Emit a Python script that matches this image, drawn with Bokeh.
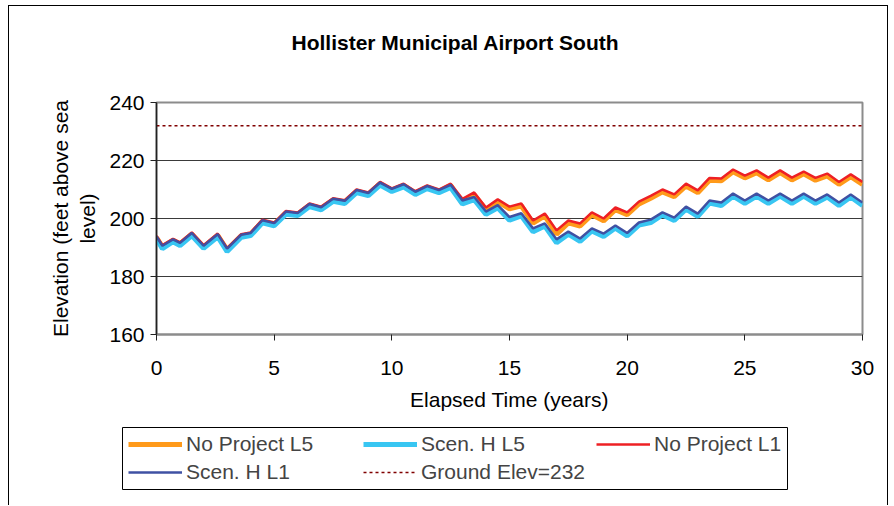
from bokeh.plotting import figure
from bokeh.layouts import column
from bokeh.models import Range1d, FixedTicker, Legend, LegendItem, Title
from bokeh.embed import file_html
from bokeh.resources import INLINE

# ---------------- data ----------------
T = [0, 0.25, 0.7, 1.0, 1.5, 2.0, 2.6, 3.0, 3.6, 4.0, 4.5, 5.0, 5.5, 6.0, 6.5, 7.0, 7.5,
     8.0, 8.5, 9.0, 9.5, 10.0, 10.5, 11.0, 11.5, 12.0, 12.5, 13.0, 13.5, 14.0, 14.5, 15.0,
     15.5, 16.0, 16.5, 17.0, 17.5, 18.0, 18.5, 19.0, 19.5, 20.0, 20.5, 21.0, 21.5, 22.0,
     22.5, 23.0, 23.5, 24.0, 24.5, 25.0, 25.5, 26.0, 26.5, 27.0, 27.5, 28.0, 28.5, 29.0,
     29.5, 30.0]

NO_PROJECT_L5 = [193.4, 190.2, 192.5, 191.2, 194.6, 190.2, 194.2, 189.2, 194.0, 194.5, 199.0,
                 198.0, 202.0, 201.5, 204.6, 203.5, 206.4, 205.7, 209.4, 208.4, 212.0, 209.8,
                 211.4, 208.8, 210.8, 209.4, 211.4, 205.2, 208.2, 203.0, 205.8, 203.3, 204.4,
                 198.4, 200.9, 194.6, 198.5, 197.4, 201.3, 199.2, 203.0, 201.3, 205.0, 207.0,
                 209.2, 207.5, 211.2, 208.9, 213.2, 213.0, 216.1, 214.0, 215.8, 213.3, 215.8,
                 213.3, 215.4, 213.2, 214.7, 211.8, 214.4, 211.8]

SCEN_H_L5 = [193.0, 189.6, 192.0, 190.7, 194.1, 189.7, 193.7, 188.6, 193.5, 194.1, 198.5,
             197.5, 201.5, 201.0, 204.1, 203.0, 205.9, 205.2, 208.9, 207.9, 211.5, 209.3,
             210.9, 208.3, 210.3, 208.9, 210.7, 205.0, 206.5, 201.4, 203.7, 199.4, 200.9,
             195.4, 197.4, 191.6, 194.6, 192.1, 195.7, 193.8, 196.7, 194.0, 197.7, 198.6,
             201.2, 199.3, 203.2, 200.7, 205.3, 204.5, 207.7, 205.2, 207.7, 205.2, 207.7,
             205.2, 207.7, 205.2, 207.4, 204.5, 207.4, 204.5]

NO_PROJECT_L1 = [194.0, 190.8, 193.0, 191.8, 195.2, 190.8, 194.8, 189.8, 194.6, 195.2, 199.6,
                 198.6, 202.6, 202.1, 205.2, 204.1, 207.0, 206.3, 210.0, 209.0, 212.6, 210.4,
                 212.0, 209.4, 211.4, 210.0, 212.0, 206.8, 209.0, 203.8, 206.6, 204.1, 205.2,
                 199.3, 201.7, 195.9, 199.3, 198.3, 202.1, 200.0, 203.8, 202.1, 205.8, 207.8,
                 210.0, 208.3, 212.0, 209.7, 214.0, 213.8, 216.9, 214.8, 216.6, 214.1, 216.6,
                 214.1, 216.2, 214.0, 215.5, 212.6, 215.2, 212.6]

SCEN_H_L1 = [193.8, 190.6, 192.8, 191.6, 195.0, 190.6, 194.6, 189.6, 194.4, 195.0, 199.4,
             198.4, 202.4, 201.9, 205.0, 203.9, 206.8, 206.1, 209.8, 208.8, 212.4, 210.2,
             211.8, 209.2, 211.2, 209.8, 211.6, 206.2, 207.4, 202.4, 204.6, 200.5, 201.8,
             196.6, 198.3, 192.8, 195.5, 193.1, 196.6, 194.8, 197.6, 195.0, 198.6, 199.6,
             202.1, 200.3, 204.1, 201.7, 206.2, 205.5, 208.6, 206.2, 208.6, 206.2, 208.6,
             206.2, 208.6, 206.2, 208.3, 205.5, 208.3, 205.5]

GROUND_ELEV = 232
X_TICKS = [0, 5, 10, 15, 20, 25, 30]
Y_TICKS = [160, 180, 200, 220, 240]
GRID_TICKS = [180, 200, 220]

TITLE = "Hollister Municipal Airport South"
X_LABEL = "Elapsed Time (years)"
Y_LABEL = "Elevation (feet above sea\nlevel)"

SERIES = [  # (label, values, colour, width)
    ("No Project L5", NO_PROJECT_L5, "#FF9A1A", 5),
    ("Scen. H L5", SCEN_H_L5, "#38C6F2", 5),
    ("No Project L1", NO_PROJECT_L1, "#EE2024", 2.5),
    ("Scen. H L1", SCEN_H_L1, "#3F51A3", 2.5),
]
GROUND_LABEL = "Ground Elev=232"
GROUND_STYLE = dict(line_color="#800000", line_width=1.5, line_dash="3 3")

# ---------------- layout ----------------
OX, OY = 9, 6                      # page position of the column (CSS margin + border)
W = 878
FL, FR, FT, FB = 156 - OX, 862 - OX, 102 - OY, 334 - OY
H1 = FB + 88
P2_TOP = OY + H1                   # page y where the legend strip starts
LB_L, LB_R, LB_T, LB_B = 122, 787, 427, 489   # legend box on page
H2 = (LB_B - P2_TOP) + 16
FONT = "Liberation Sans"
FS = "21px"

p = figure(width=W, height=H1, output_backend="svg", toolbar_location=None,
           title=None,
           x_range=Range1d(0, 30), y_range=Range1d(160, 240),
           min_border_left=FL, min_border_right=W - FR,
           min_border_top=FT, min_border_bottom=H1 - FB)

p.outline_line_color = "#8c8c8c"
p.outline_line_width = 2
p.background_fill_color = "white"
p.border_fill_color = "white"

# spacer between frame and title, then the title itself (outer)
p.add_layout(Title(text=" ", text_font_size="1px", standoff=46), "above")
p.add_layout(Title(text=TITLE, align="left", offset=135, standoff=0,
                   vertical_align="bottom", text_font=FONT, text_font_size=FS,
                   text_font_style="bold", text_color="black"), "above")

p.xgrid.visible = False
p.ygrid.ticker = FixedTicker(ticks=GRID_TICKS)
p.ygrid.grid_line_color = "#3a3a3a"
p.ygrid.grid_line_width = 1

for ax in (p.xaxis[0], p.yaxis[0]):
    ax.major_label_text_font = FONT
    ax.major_label_text_font_size = FS
    ax.major_label_text_color = "black"
    ax.axis_label_text_font = FONT
    ax.axis_label_text_font_size = FS
    ax.axis_label_text_font_style = "normal"
    ax.axis_label_text_color = "black"
    ax.minor_tick_line_color = None
    ax.major_tick_out = 6
    ax.major_tick_in = 0
    ax.major_tick_line_color = "#222222"

p.xaxis.ticker = FixedTicker(ticks=X_TICKS)
p.yaxis.ticker = FixedTicker(ticks=Y_TICKS)
p.xaxis.axis_label = X_LABEL
p.yaxis.axis_label = Y_LABEL
p.xaxis.major_label_standoff = 20
p.xaxis.axis_label_standoff = 10
p.yaxis.major_label_standoff = 6
p.yaxis.axis_label_standoff = 7
p.xaxis.axis_line_color = "#8c8c8c"
p.xaxis.axis_line_width = 2
p.yaxis.axis_line_color = "#222222"
p.yaxis.axis_line_width = 1.5

for label, vals, color, width in SERIES:
    p.line(T, vals, line_color=color, line_width=width)
p.line([T[0], T[-1]], [GROUND_ELEV, GROUND_ELEV], **GROUND_STYLE)

# ---------------- legend strip (its frame is the legend box) ----------------
p2 = figure(width=W, height=H2, output_backend="svg", toolbar_location=None,
            title=None,
            x_range=Range1d(-2, -1), y_range=Range1d(-2, -1),
            x_axis_location=None, y_axis_location=None,
            min_border_left=LB_L - OX, min_border_right=W - (LB_R - OX),
            min_border_top=LB_T - P2_TOP, min_border_bottom=H2 - (LB_B - P2_TOP))
p2.grid.visible = False
p2.outline_line_color = "black"
p2.outline_line_width = 1
p2.background_fill_color = "white"
p2.border_fill_color = "white"

for fig in (p, p2):
    if "frame_align" in fig.properties():
        fig.frame_align = False

# legend keys: same series, lying outside this strip's view, so only the keys show
keys = {}
for label, vals, color, width in SERIES:
    keys[label] = p2.line(T, vals, line_color=color, line_width=width)
keys[GROUND_LABEL] = p2.line([T[0], T[-1]], [GROUND_ELEV, GROUND_ELEV], **GROUND_STYLE)

common = dict(label_text_font=FONT, label_text_font_size=FS, glyph_width=54,
              glyph_height=24, label_height=24, label_standoff=4, spacing=4,
              padding=0, margin=0, border_line_color=None, background_fill_alpha=0)

columns = [(["No Project L5", "Scen. H L1"], 128),
           (["Scen. H L5", GROUND_LABEL], 363),
           (["No Project L1"], 596)]
for labels, gx in columns:
    n = len(labels)
    legend_h = n * 24 + (n - 1) * 4
    bottom_page = 444 - 12 + legend_h
    lg = Legend(items=[LegendItem(label=l, renderers=[keys[l]]) for l in labels],
                location=(gx - LB_L, LB_B - bottom_page), **common)
    p2.add_layout(lg)

layout = column(p, p2, spacing=0,
                styles={"margin-left": "8px", "margin-top": "5px",
                        "border-left": "1px solid black", "border-top": "1px solid black",
                        "border-right": "1px solid black"})

open("out.html", "w").write(file_html(layout, INLINE))
